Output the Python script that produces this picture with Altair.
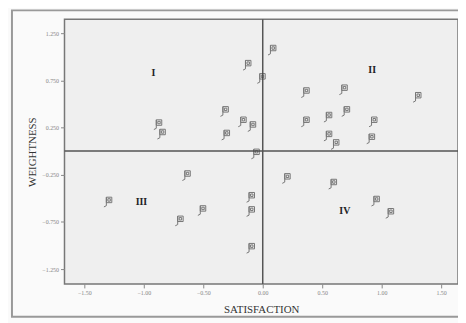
import altair as alt
import pandas as pd

satisfaction = [0.07, -0.14, -0.02, -0.33, -0.89, -0.86, -0.18, -0.10, -0.32, -0.07,
                0.35, 0.67, 1.29, 0.35, 0.54, 0.69, 0.92, 0.54, 0.60, 0.90,
                -0.65, -1.31, -0.11, -0.11, -0.71, -0.52, -0.11,
                0.19, 0.58, 0.94, 1.06]
weightness = [1.07, 0.91, 0.77, 0.42, 0.28, 0.18, 0.31, 0.26, 0.17, -0.03,
              0.62, 0.65, 0.57, 0.31, 0.36, 0.42, 0.31, 0.16, 0.07, 0.13,
              -0.26, -0.54, -0.49, -0.64, -0.74, -0.63, -1.03,
              -0.29, -0.35, -0.53, -0.66]

quad_names = ["I", "II", "III", "IV"]
quad_x = [-0.92, 0.92, -1.02, 0.69]
quad_y = [0.83, 0.86, -0.54, -0.63]

x_ticks = [-1.5, -1.0, -0.5, 0.0, 0.5, 1.0, 1.5]
y_ticks = [-1.25, -0.75, -0.25, 0.25, 0.75, 1.25]

pts = pd.DataFrame({"SATISFACTION": satisfaction, "WEIGHTNESS": weightness})
quads = pd.DataFrame({"name": quad_names, "x": quad_x, "y": quad_y})

xs = alt.Scale(domain=[-1.667, 1.642], nice=False, zero=False)
ys = alt.Scale(domain=[-1.408, 1.397], nice=False, zero=False)

xaxis = alt.Axis(values=x_ticks, format=".2f", grid=False, labelFontSize=6,
                 labelColor="#888", tickColor="#888", tickSize=4, domain=False,
                 titleFont="Liberation Serif", titleFontSize=11, titleFontWeight="normal",
                 titleColor="#333", titlePadding=8, labelFont="Liberation Serif")
yaxis = alt.Axis(values=y_ticks, format=".3f", grid=False, labelFontSize=6,
                 labelColor="#888", tickColor="#888", tickSize=4, domain=False,
                 titleFont="Liberation Serif", titleFontSize=11, titleFontWeight="normal",
                 titleColor="#333", titlePadding=4, labelFont="Liberation Serif")

glyph = ("M -0.1 -0.8 H 0.8 V 0.1 H -0.1 Z "
         "M 0.15 -0.55 H 0.55 V -0.15 H 0.15 Z "
         "M -0.1 -0.8 V 0.6 L -0.5 0.8")

points = alt.Chart(pts).mark_point(shape=glyph, size=150, filled=False, color="#444",
                                   strokeWidth=1).encode(
    x=alt.X("SATISFACTION:Q", scale=xs, axis=xaxis, title="SATISFACTION"),
    y=alt.Y("WEIGHTNESS:Q", scale=ys, axis=yaxis, title="WEIGHTNESS"),
)

labels = alt.Chart(quads).mark_text(font="Liberation Serif", fontSize=10, fontWeight="bold",
                                    color="#222").encode(
    x=alt.X("x:Q", scale=xs), y=alt.Y("y:Q", scale=ys), text="name:N")

vline = alt.Chart(pd.DataFrame({"v": [0.0]})).mark_rule(color="#555", strokeWidth=1.5).encode(
    x=alt.X("v:Q", scale=xs))
hline = alt.Chart(pd.DataFrame({"h": [0.0]})).mark_rule(color="#555", strokeWidth=1.5).encode(
    y=alt.Y("h:Q", scale=ys))

frame = alt.Chart(pd.DataFrame({"f": [0]})).mark_rect(
    fill=None, stroke="#999", strokeWidth=2, clip=False).encode(
    x=alt.value(-53), x2=alt.value(402), y=alt.value(-9), y2=alt.value(300))

chart = alt.layer(frame, vline, hline, points, labels).properties(
    width=397, height=267,
    autosize=alt.AutoSizeParams(type="none"),
    padding={"left": 57, "top": 10, "right": 0, "bottom": 38},
    background="#fafafa",
).configure_view(fill="#efefef", stroke="#777", strokeWidth=1.5)

chart.save("out.html", embed_options={"renderer": "svg", "actions": False})
